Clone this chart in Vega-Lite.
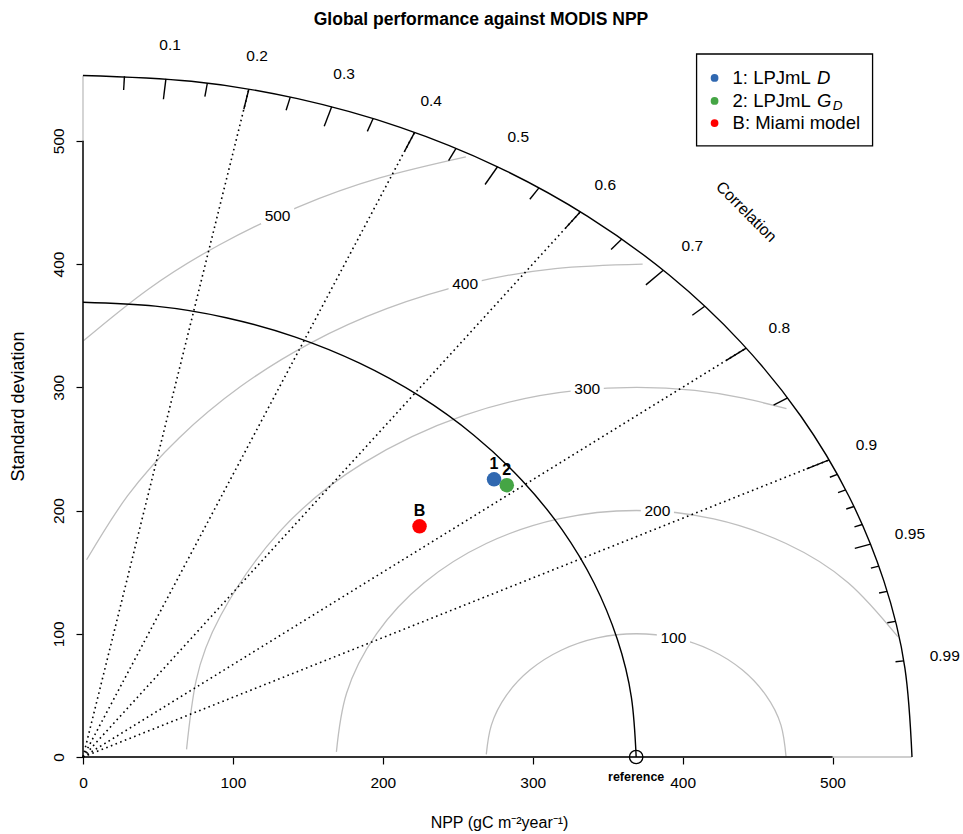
{
  "$schema": "https://vega.github.io/schema/vega-lite/v6.json",
  "width": 832,
  "height": 684,
  "autosize": {"type": "none"},
  "padding": {"left": 83, "top": 73, "right": 48, "bottom": 77},
  "background": "white",
  "config": {"font": "Liberation Sans", "view": {"stroke": null}},
  "title": {"text": "Global performance against MODIS NPP", "fontSize": 17.5, "fontWeight": "bold", "color": "black", "anchor": "middle", "frame": "group", "baseline": "bottom", "offset": -9, "dx": -18},
  "datasets": {
    "contours": [
      {"arc": "r100", "i": 0, "x": 469, "y": 0}, {"arc": "r100", "i": 1, "x": 465.59, "y": 25.88}, {"arc": "r100", "i": 2, "x": 455.6, "y": 50}, {"arc": "r100", "i": 3, "x": 439.71, "y": 70.71}, {"arc": "r100", "i": 4, "x": 419, "y": 86.6}, {"arc": "r100", "i": 5, "x": 394.88, "y": 96.59}, {"arc": "r100", "i": 6, "x": 369, "y": 100}, {"arc": "r100", "i": 7, "x": 343.12, "y": 96.59}, {"arc": "r100", "i": 8, "x": 319, "y": 86.6}, {"arc": "r100", "i": 9, "x": 298.29, "y": 70.71}, {"arc": "r100", "i": 10, "x": 282.4, "y": 50}, {"arc": "r100", "i": 11, "x": 272.41, "y": 25.88}, {"arc": "r100", "i": 12, "x": 269.02, "y": 2.08},
      {"arc": "r200", "i": 0, "x": 543.55, "y": 97.64}, {"arc": "r200", "i": 1, "x": 510.42, "y": 141.42}, {"arc": "r200", "i": 2, "x": 469, "y": 173.21}, {"arc": "r200", "i": 3, "x": 420.76, "y": 193.19}, {"arc": "r200", "i": 4, "x": 369, "y": 200}, {"arc": "r200", "i": 5, "x": 317.24, "y": 193.19}, {"arc": "r200", "i": 6, "x": 269, "y": 173.21}, {"arc": "r200", "i": 7, "x": 227.58, "y": 141.42}, {"arc": "r200", "i": 8, "x": 195.79, "y": 100}, {"arc": "r200", "i": 9, "x": 175.81, "y": 51.76}, {"arc": "r200", "i": 10, "x": 169.04, "y": 4.16},
      {"arc": "r300", "i": 0, "x": 469.27, "y": 282.75}, {"arc": "r300", "i": 1, "x": 408.16, "y": 297.43}, {"arc": "r300", "i": 2, "x": 329.84, "y": 297.43}, {"arc": "r300", "i": 3, "x": 254.2, "y": 277.16}, {"arc": "r300", "i": 4, "x": 186.37, "y": 238.01}, {"arc": "r300", "i": 5, "x": 130.99, "y": 182.63}, {"arc": "r300", "i": 6, "x": 91.84, "y": 114.8}, {"arc": "r300", "i": 7, "x": 75.41, "y": 61.71}, {"arc": "r300", "i": 8, "x": 69.07, "y": 6.24},
      {"arc": "r400", "i": 0, "x": 373.32, "y": 399.98}, {"arc": "r400", "i": 1, "x": 314.99, "y": 396.34}, {"arc": "r400", "i": 2, "x": 257.8, "y": 384.23}, {"arc": "r400", "i": 3, "x": 203.02, "y": 363.94}, {"arc": "r400", "i": 4, "x": 151.73, "y": 335.85}, {"arc": "r400", "i": 5, "x": 105.08, "y": 300.58}, {"arc": "r400", "i": 6, "x": 64.08, "y": 258.89}, {"arc": "r400", "i": 7, "x": 29.68, "y": 211.8}, {"arc": "r400", "i": 8, "x": 2.41, "y": 160.03},
      {"arc": "r500", "i": 0, "x": 255.4, "y": 486.93}, {"arc": "r500", "i": 1, "x": 197.91, "y": 469.82}, {"arc": "r500", "i": 2, "x": 142.95, "y": 445.99}, {"arc": "r500", "i": 3, "x": 91.12, "y": 415.67}, {"arc": "r500", "i": 4, "x": 43.32, "y": 379.39}, {"arc": "r500", "i": 5, "x": 0.3, "y": 337.73}
    ],
    "refArc": [
      {"i": 0, "x": 369, "y": 0}, {"i": 1, "x": 365.84, "y": 48.17}, {"i": 2, "x": 356.43, "y": 95.5}, {"i": 3, "x": 340.91, "y": 141.21}, {"i": 4, "x": 319.56, "y": 184.5}, {"i": 5, "x": 292.75, "y": 224.63}, {"i": 6, "x": 260.92, "y": 260.92}, {"i": 7, "x": 224.63, "y": 292.75}, {"i": 8, "x": 184.5, "y": 319.56}, {"i": 9, "x": 141.21, "y": 340.91}, {"i": 10, "x": 95.5, "y": 356.43}, {"i": 11, "x": 48.17, "y": 365.84}, {"i": 12, "x": 0, "y": 369}
    ],
    "outerArc": [
      {"i": 0, "x": 553, "y": 0}, {"i": 1, "x": 548.27, "y": 72.18}, {"i": 2, "x": 534.16, "y": 143.13}, {"i": 3, "x": 510.91, "y": 211.62}, {"i": 4, "x": 478.91, "y": 276.5}, {"i": 5, "x": 438.72, "y": 336.64}, {"i": 6, "x": 391.03, "y": 391.03}, {"i": 7, "x": 336.64, "y": 438.72}, {"i": 8, "x": 276.5, "y": 478.91}, {"i": 9, "x": 211.62, "y": 510.91}, {"i": 10, "x": 143.13, "y": 534.16}, {"i": 11, "x": 72.18, "y": 548.27}, {"i": 12, "x": 0, "y": 553}
    ],
    "rays": [
      {"x": 0, "y": 0, "x2": 110.6, "y2": 541.83},
      {"x": 0, "y": 0, "x2": 221.2, "y2": 506.83},
      {"x": 0, "y": 0, "x2": 331.8, "y2": 442.4},
      {"x": 0, "y": 0, "x2": 442.4, "y2": 331.8},
      {"x": 0, "y": 0, "x2": 497.7, "y2": 241.05}
    ],
    "ticks": [
      {"x": 55.3, "y": 550.23, "x2": 53.64, "y2": 533.72},
      {"x": 110.6, "y": 541.83, "x2": 107.28, "y2": 525.57},
      {"x": 165.9, "y": 527.53, "x2": 160.92, "y2": 511.7},
      {"x": 221.2, "y": 506.83, "x2": 214.56, "y2": 491.63},
      {"x": 276.5, "y": 478.91, "x2": 268.21, "y2": 464.55},
      {"x": 331.8, "y": 442.4, "x2": 321.85, "y2": 429.13},
      {"x": 387.1, "y": 394.92, "x2": 375.49, "y2": 383.07},
      {"x": 442.4, "y": 331.8, "x2": 429.13, "y2": 321.85},
      {"x": 497.7, "y": 241.05, "x2": 482.77, "y2": 233.82},
      {"x": 27.65, "y": 552.31, "x2": 27.1, "y2": 541.26},
      {"x": 82.95, "y": 546.75, "x2": 81.29, "y2": 535.81},
      {"x": 138.25, "y": 535.44, "x2": 135.49, "y2": 524.73},
      {"x": 193.55, "y": 518.02, "x2": 189.68, "y2": 507.66},
      {"x": 248.85, "y": 493.85, "x2": 243.87, "y2": 483.97},
      {"x": 304.15, "y": 461.84, "x2": 298.07, "y2": 452.61},
      {"x": 359.45, "y": 420.24, "x2": 352.26, "y2": 411.84},
      {"x": 414.75, "y": 365.78, "x2": 406.46, "y2": 358.46},
      {"x": 470.05, "y": 291.31, "x2": 460.65, "y2": 285.48},
      {"x": 525.35, "y": 172.67, "x2": 514.84, "y2": 169.22},
      {"x": 503.23, "y": 229.28, "x2": 498.2, "y2": 226.99},
      {"x": 508.76, "y": 216.73, "x2": 503.67, "y2": 214.57},
      {"x": 514.29, "y": 203.27, "x2": 509.15, "y2": 201.23},
      {"x": 519.82, "y": 188.67, "x2": 514.62, "y2": 186.78},
      {"x": 530.88, "y": 154.84, "x2": 525.57, "y2": 153.29},
      {"x": 536.41, "y": 134.43, "x2": 531.05, "y2": 133.09},
      {"x": 541.94, "y": 110.05, "x2": 536.52, "y2": 108.95},
      {"x": 547.47, "y": 78.01, "x2": 542.0, "y2": 77.23}
    ],
    "axisGray": [
      {"x": 0, "y": 0, "x2": 553, "y2": 0},
      {"x": 0, "y": 0, "x2": 0, "y2": 553}
    ],
    "axisBlack": [
      {"x": 0, "y": 0, "x2": 500, "y2": 0},
      {"x": 0, "y": 0, "x2": 0, "y2": 500}
    ],
    "corrLabels": [
      {"x": 58.07, "y": 577.74, "t": "0.1"},
      {"x": 116.13, "y": 568.92, "t": "0.2"},
      {"x": 174.2, "y": 553.9, "t": "0.3"},
      {"x": 232.26, "y": 532.18, "t": "0.4"},
      {"x": 290.33, "y": 502.86, "t": "0.5"},
      {"x": 348.39, "y": 464.52, "t": "0.6"},
      {"x": 406.46, "y": 414.67, "t": "0.7"},
      {"x": 464.52, "y": 348.39, "t": "0.8"},
      {"x": 522.59, "y": 253.1, "t": "0.9"},
      {"x": 551.62, "y": 181.31, "t": "0.95"},
      {"x": 574.84, "y": 81.91, "t": "0.99"}
    ],
    "rmsLabels": [
      {"x": 393.82, "y": 96.87, "t": "100"},
      {"x": 383.15, "y": 199.5, "t": "200"},
      {"x": 336.34, "y": 298.22, "t": "300"},
      {"x": 254.92, "y": 383.39, "t": "400"},
      {"x": 129.79, "y": 439.06, "t": "500"}
    ],
    "corrTitle": [{"x": 442.4, "y": 442.4, "t": "Correlation"}],
    "reference": [{"x": 369, "y": 0, "t": "reference"}],
    "models": [
      {"id": "1", "x": 274.2, "y": 225.3},
      {"id": "2", "x": 282.7, "y": 220.5},
      {"id": "B", "x": 224.5, "y": 187.2}
    ],
    "legendBox": [{"x": 409.3, "y": 570.4, "x2": 526.7, "y2": 495.8}],
    "legendDots": [
      {"id": "1", "x": 421.3, "y": 550.96},
      {"id": "2", "x": 421.3, "y": 532.3},
      {"id": "B", "x": 421.3, "y": 514.4}
    ],
    "legendText": [
      {"x": 433.3, "y": 550.96, "t": "1: LPJmL"},
      {"x": 433.3, "y": 532.3, "t": "2: LPJmL"},
      {"x": 433.3, "y": 514.4, "t": "B: Miami model"}
    ],
    "legendItal": [
      {"x": 489.7, "y": 550.96, "t": "D"},
      {"x": 489.7, "y": 532.3, "t": "G"}
    ],
    "legendSub": [{"x": 500.2, "y": 532.3, "t": "D"}]
  },
  "encoding": {
    "x": {
      "field": "x", "type": "quantitative",
      "scale": {"domain": [0, 555], "nice": false, "zero": false},
      "axis": {"title": "NPP (gC m⁻²year⁻¹)", "values": [0, 100, 200, 300, 400, 500], "domain": false, "grid": false, "ticks": true, "tickSize": 7, "tickColor": "black", "tickWidth": 1.2, "labelFontSize": 15.5, "labelColor": "black", "labelPadding": 11, "labelFlush": false, "labelOverlap": false, "titleFontSize": 16, "titleFontWeight": "normal", "titleColor": "black", "titleX": 416, "titleY": 70, "titleAlign": "center", "titleBaseline": "alphabetic"}
    },
    "y": {
      "field": "y", "type": "quantitative",
      "scale": {"domain": [0, 555], "nice": false, "zero": false},
      "axis": {"title": "Standard deviation", "values": [0, 100, 200, 300, 400, 500], "domain": false, "grid": false, "ticks": true, "tickSize": 7, "tickColor": "black", "tickWidth": 1.2, "labelFontSize": 15.5, "labelColor": "black", "labelAngle": -90, "labelAlign": "center", "labelBaseline": "bottom", "labelPadding": 10, "labelFlush": false, "labelOverlap": false, "titleFontSize": 18, "titleFontWeight": "normal", "titleColor": "black", "titleX": -60, "titleY": 333, "titleAngle": -90, "titleAlign": "center", "titleBaseline": "alphabetic"}
    }
  },
  "layer": [
    {
      "data": {"name": "contours"},
      "mark": {"type": "line", "color": "#BEBEBE", "strokeWidth": 1.3, "interpolate": "natural"},
      "encoding": {"detail": {"field": "arc"}, "order": {"field": "i", "type": "quantitative"}}
    },
    {
      "data": {"name": "axisGray"},
      "mark": {"type": "rule", "color": "#BEBEBE", "strokeWidth": 1.3},
      "encoding": {"x2": {"field": "x2"}, "y2": {"field": "y2"}}
    },
    {
      "data": {"name": "rmsLabels"},
      "mark": {"type": "point", "shape": "M-1,-0.5L1,-0.5L1,0.5L-1,0.5Z", "size": 1100, "filled": true, "color": "white", "opacity": 1, "strokeWidth": 0},
      "encoding": {}
    },
    {
      "data": {"name": "rmsLabels"},
      "mark": {"type": "text", "fontSize": 15.5, "color": "black", "align": "center", "baseline": "middle"},
      "encoding": {"text": {"field": "t"}}
    },
    {
      "data": {"name": "rays"},
      "mark": {"type": "rule", "color": "black", "strokeWidth": 1.6, "strokeDash": [1.6, 3.4]},
      "encoding": {"x2": {"field": "x2"}, "y2": {"field": "y2"}}
    },
    {
      "data": {"name": "refArc"},
      "mark": {"type": "line", "color": "black", "strokeWidth": 1.4, "interpolate": "natural"},
      "encoding": {"order": {"field": "i", "type": "quantitative"}}
    },
    {
      "data": {"name": "outerArc"},
      "mark": {"type": "line", "color": "black", "strokeWidth": 1.4, "interpolate": "natural"},
      "encoding": {"order": {"field": "i", "type": "quantitative"}}
    },
    {
      "data": {"name": "ticks"},
      "mark": {"type": "rule", "color": "black", "strokeWidth": 1.4},
      "encoding": {"x2": {"field": "x2"}, "y2": {"field": "y2"}}
    },
    {
      "data": {"name": "axisBlack"},
      "mark": {"type": "rule", "color": "black", "strokeWidth": 1.4},
      "encoding": {"x2": {"field": "x2"}, "y2": {"field": "y2"}}
    },
    {
      "data": {"name": "corrLabels"},
      "mark": {"type": "text", "fontSize": 15.5, "color": "black", "align": "center", "baseline": "middle"},
      "encoding": {"text": {"field": "t"}}
    },
    {
      "data": {"name": "corrTitle"},
      "mark": {"type": "text", "fontSize": 16, "color": "black", "align": "center", "baseline": "middle", "angle": 45},
      "encoding": {"text": {"field": "t"}}
    },
    {
      "data": {"name": "reference"},
      "mark": {"type": "point", "shape": "circle", "size": 180, "filled": false, "color": "black", "strokeWidth": 1.3, "opacity": 1},
      "encoding": {}
    },
    {
      "data": {"name": "reference"},
      "mark": {"type": "text", "fontSize": 12.5, "fontWeight": "bold", "color": "black", "align": "center", "baseline": "middle", "dy": 20},
      "encoding": {"text": {"field": "t"}}
    },
    {
      "data": {"name": "models"},
      "mark": {"type": "point", "shape": "circle", "size": 210, "filled": true, "opacity": 1},
      "encoding": {"color": {"field": "id", "type": "nominal", "scale": {"domain": ["1", "2", "B"], "range": ["#3068b0", "#45a545", "#ff0000"]}, "legend": null}}
    },
    {
      "data": {"name": "models"},
      "mark": {"type": "text", "fontSize": 16, "fontWeight": "bold", "color": "black", "align": "center", "baseline": "middle", "dy": -15},
      "encoding": {"text": {"field": "id"}}
    },
    {
      "data": {"name": "legendBox"},
      "mark": {"type": "rect", "fill": null, "fillOpacity": 0, "stroke": "black", "strokeWidth": 1.3},
      "encoding": {"x2": {"field": "x2"}, "y2": {"field": "y2"}}
    },
    {
      "data": {"name": "legendDots"},
      "mark": {"type": "point", "shape": "circle", "size": 60, "filled": true, "opacity": 1},
      "encoding": {"color": {"field": "id", "type": "nominal", "scale": {"domain": ["1", "2", "B"], "range": ["#3068b0", "#45a545", "#ff0000"]}, "legend": null}}
    },
    {
      "data": {"name": "legendText"},
      "mark": {"type": "text", "fontSize": 18.5, "color": "black", "align": "left", "baseline": "middle"},
      "encoding": {"text": {"field": "t"}}
    },
    {
      "data": {"name": "legendItal"},
      "mark": {"type": "text", "fontSize": 18.5, "fontStyle": "italic", "color": "black", "align": "left", "baseline": "middle"},
      "encoding": {"text": {"field": "t"}}
    },
    {
      "data": {"name": "legendSub"},
      "mark": {"type": "text", "fontSize": 13.5, "fontStyle": "italic", "color": "black", "align": "left", "baseline": "middle", "dy": 5},
      "encoding": {"text": {"field": "t"}}
    }
  ]
}
